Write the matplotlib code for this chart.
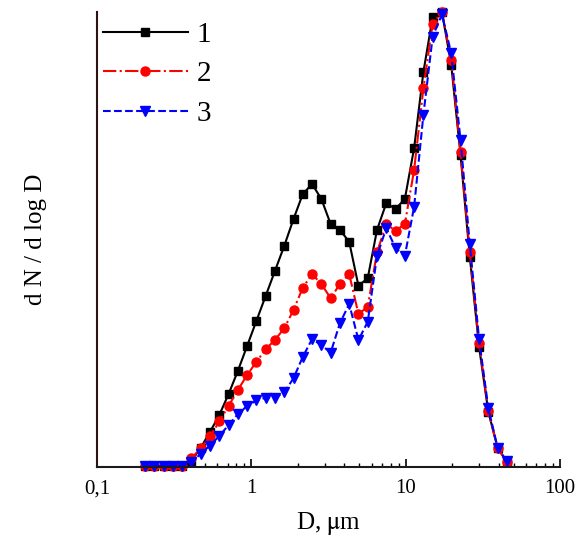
import matplotlib
matplotlib.use("Agg")
import matplotlib.pyplot as plt
from matplotlib.ticker import FixedLocator, FixedFormatter, LogLocator, NullFormatter

plt.rcParams['font.family'] = ['Liberation Serif', 'DejaVu Serif']
plt.rcParams['mathtext.fontset'] = 'stix'

# particle diameter, um (log-spaced bins)
D = [0.2046, 0.2349, 0.2698, 0.3098, 0.3559, 0.4087, 0.4694, 0.5391, 0.6191, 0.7110,
     0.8166, 0.9378, 1.077, 1.237, 1.421, 1.632, 1.874, 2.152, 2.472, 2.839,
     3.260, 3.744, 4.300, 4.938, 5.671, 6.513, 7.480, 8.590, 9.865, 11.33,
     13.01, 14.94, 17.16, 19.71, 22.64, 26.00, 29.86, 34.29, 39.38, 45.23]

# dN/dlogD, normalised to peak = 100
s1 = [0.2, 0.2, 0.2, 0.2, 0.2, 1.3, 4.2, 7.7, 11.4, 16.0,
      21.1, 26.6, 32.1, 37.6, 43.1, 48.6, 54.5, 60.0, 62.2, 58.9,
      53.4, 52.1, 49.5, 39.8, 41.5, 52.1, 58.0, 56.7, 58.9, 70.1,
      86.8, 98.9, 100.0, 88.4, 68.6, 46.2, 26.4, 12.1, 4.2, 1.1]
s2 = [0.2, 0.2, 0.2, 0.2, 0.2, 1.9, 4.1, 6.7, 10.0, 13.4,
      16.9, 20.2, 23.1, 25.9, 27.9, 30.5, 34.5, 39.4, 42.4, 40.2,
      37.1, 40.2, 42.4, 33.6, 35.2, 47.2, 53.4, 51.9, 53.4, 65.3,
      83.2, 97.4, 100.0, 89.5, 69.3, 47.3, 27.2, 12.2, 4.1, 1.1]
s3 = [0.2, 0.2, 0.2, 0.2, 0.2, 1.0, 2.9, 4.7, 6.8, 9.2,
      11.6, 13.4, 14.6, 15.2, 15.2, 16.4, 19.5, 24.2, 28.1, 26.8,
      25.1, 31.6, 35.8, 27.9, 31.9, 46.4, 52.5, 48.1, 46.4, 57.2,
      77.4, 94.6, 99.5, 90.9, 71.9, 48.9, 28.1, 12.9, 4.2, 1.2]

labels = ["1", "2", "3"]
xticks = [0.1, 1, 10, 100]
xticklabels = ["0,1", "1", "10", "100"]

fig = plt.figure(figsize=(5.78, 5.48), dpi=100)
ax = fig.add_axes([0.168, 0.148, 0.801, 0.830])

ax.plot(D, s1, color='black', ls='-', lw=1.5, marker='s', ms=6, label=labels[0], clip_on=False)
ax.plot(D, s2, color='red', ls='-.', lw=1.5, marker='o', ms=6.5, label=labels[1], clip_on=False)
ax.plot(D, s3, color='blue', ls='--', lw=1.5, marker='v', ms=7.5, label=labels[2], clip_on=False)

ax.set_xscale('log')
ax.set_xlim(0.1, 100)
ax.set_ylim(0, 100)

ax.xaxis.set_major_locator(FixedLocator(xticks))
ax.xaxis.set_major_formatter(FixedFormatter(xticklabels))
ax.xaxis.set_minor_locator(LogLocator(base=10, subs=range(2, 10)))
ax.xaxis.set_minor_formatter(NullFormatter())
ax.tick_params(axis='x', which='major', direction='in', length=6, width=1.2, labelsize=15, pad=9)
ax.tick_params(axis='x', which='minor', direction='in', length=3, width=1)
ax.set_yticks([])

for side in ['top', 'right']:
    ax.spines[side].set_visible(False)
ax.spines['left'].set_color('#2a1414')
ax.spines['bottom'].set_color('#1a1a1a')
ax.spines['left'].set_linewidth(1.5)
ax.spines['bottom'].set_linewidth(1.5)

ax.set_xlabel(r"D, $\mathrm{\mu}$m", fontsize=18, labelpad=8)
ax.set_ylabel("d N / d log D", fontsize=18, labelpad=36)

ax.legend(loc='upper left', bbox_to_anchor=(-0.025, 1.018), frameon=False, fontsize=21,
          handlelength=2.9, handletextpad=0.3, labelspacing=0.45, borderaxespad=0.2)

fig.savefig("out.png", dpi=100)
